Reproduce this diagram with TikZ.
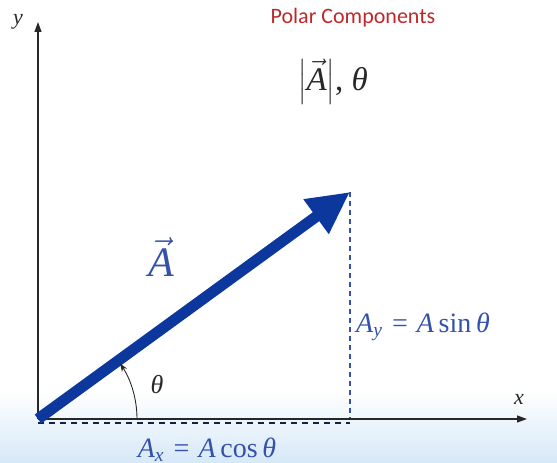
\documentclass[tikz,border=0pt]{standalone}
\usepackage{fix-cm}
\usepackage{amsmath}
\usepackage{fontspec}
\setmainfont{Liberation Serif}
\newfontfamily\calibrifont{Carlito}
\usetikzlibrary{arrows.meta}
\definecolor{vecblue}{RGB}{12,56,158}
\definecolor{lblblue}{RGB}{52,82,170}
\definecolor{titlered}{RGB}{190,40,40}
\definecolor{bgblue}{RGB}{214,232,247}
\definecolor{axisgray}{RGB}{40,40,40}
\tikzset{
  axisline/.style={draw=axisgray, line width=1.1pt, -{Triangle[length=10pt,width=7pt]}},
  vecline/.style={draw=vecblue, line width=11pt, -{Triangle[length=42pt,width=40pt]}},
  projv/.style={draw=lblblue, line width=1.2pt, dash pattern=on 5pt off 4pt},
  projh/.style={draw=black!60!lblblue, line width=1.2pt, dash pattern=on 6pt off 5pt},
  lbl/.style={inner sep=0pt, text=lblblue},
  axlbl/.style={inner sep=0pt, text=axisgray, font=\fontsize{22}{24}\selectfont\itshape},
}
\begin{document}
\begin{tikzpicture}[x=1pt,y=1pt]
\useasboundingbox (0,0) rectangle (557,463);
\shade[top color=white, bottom color=bgblue] (0,0) rectangle (557,72);
\coordinate (O) at (38,44);
\coordinate (P) at (350,271);
\coordinate (F) at (350,44);
\coordinate (Oh) at (38,40);
\coordinate (Fh) at (350,40);
\coordinate (Ytip) at (38,441);
\coordinate (Xtip) at (527,44);
\coordinate (arcstart) at (137,44);
% projections
\draw[projh] (Oh) -- (Fh);
\draw[projv] (P) -- (F);
% axes
\draw[axisline] (O) -- (Ytip);
\draw[axisline] (O) -- (Xtip);
% vector
\draw[vecline] (O) -- (P);
% angle arc
\draw[draw=axisgray, line width=0.9pt, -{Stealth[length=8pt,width=6pt]}] (arcstart) arc[start angle=0, end angle=34, radius=99];
% labels
\node[axlbl] (ylbl) at (18,441) {y};
\node[axlbl] (xlbl) at (519,64) {x};
\node[inner sep=0pt, text=titlered, font=\calibrifont\fontsize{22}{26}\selectfont] (title) at (353,445) {Polar Components};
\node[inner sep=0pt, text=axisgray, font=\fontsize{33}{36}\selectfont] (polar) at (333,381) {$\bigl|\vec{\text{\itshape A}}\bigr|$, \textit{θ}};
\node[lbl, font=\fontsize{42}{46}\selectfont] (vecA) at (161,206) {$\vec{\text{\itshape A}}$};
\node[inner sep=0pt, text=axisgray, font=\fontsize{26}{30}\selectfont\itshape] (theta) at (157,78) {θ};
\node[lbl, anchor=west, font=\fontsize{28}{30}\selectfont\itshape] (Ay) at (356,136) {A\textsubscript{y}\;=\;A\,{\upshape sin}\,θ};
\node[lbl, font=\fontsize{28}{30}\selectfont\itshape] (Ax) at (207,13) {A\textsubscript{x}\;=\;A\,{\upshape cos}\,θ};
\end{tikzpicture}
\end{document}
